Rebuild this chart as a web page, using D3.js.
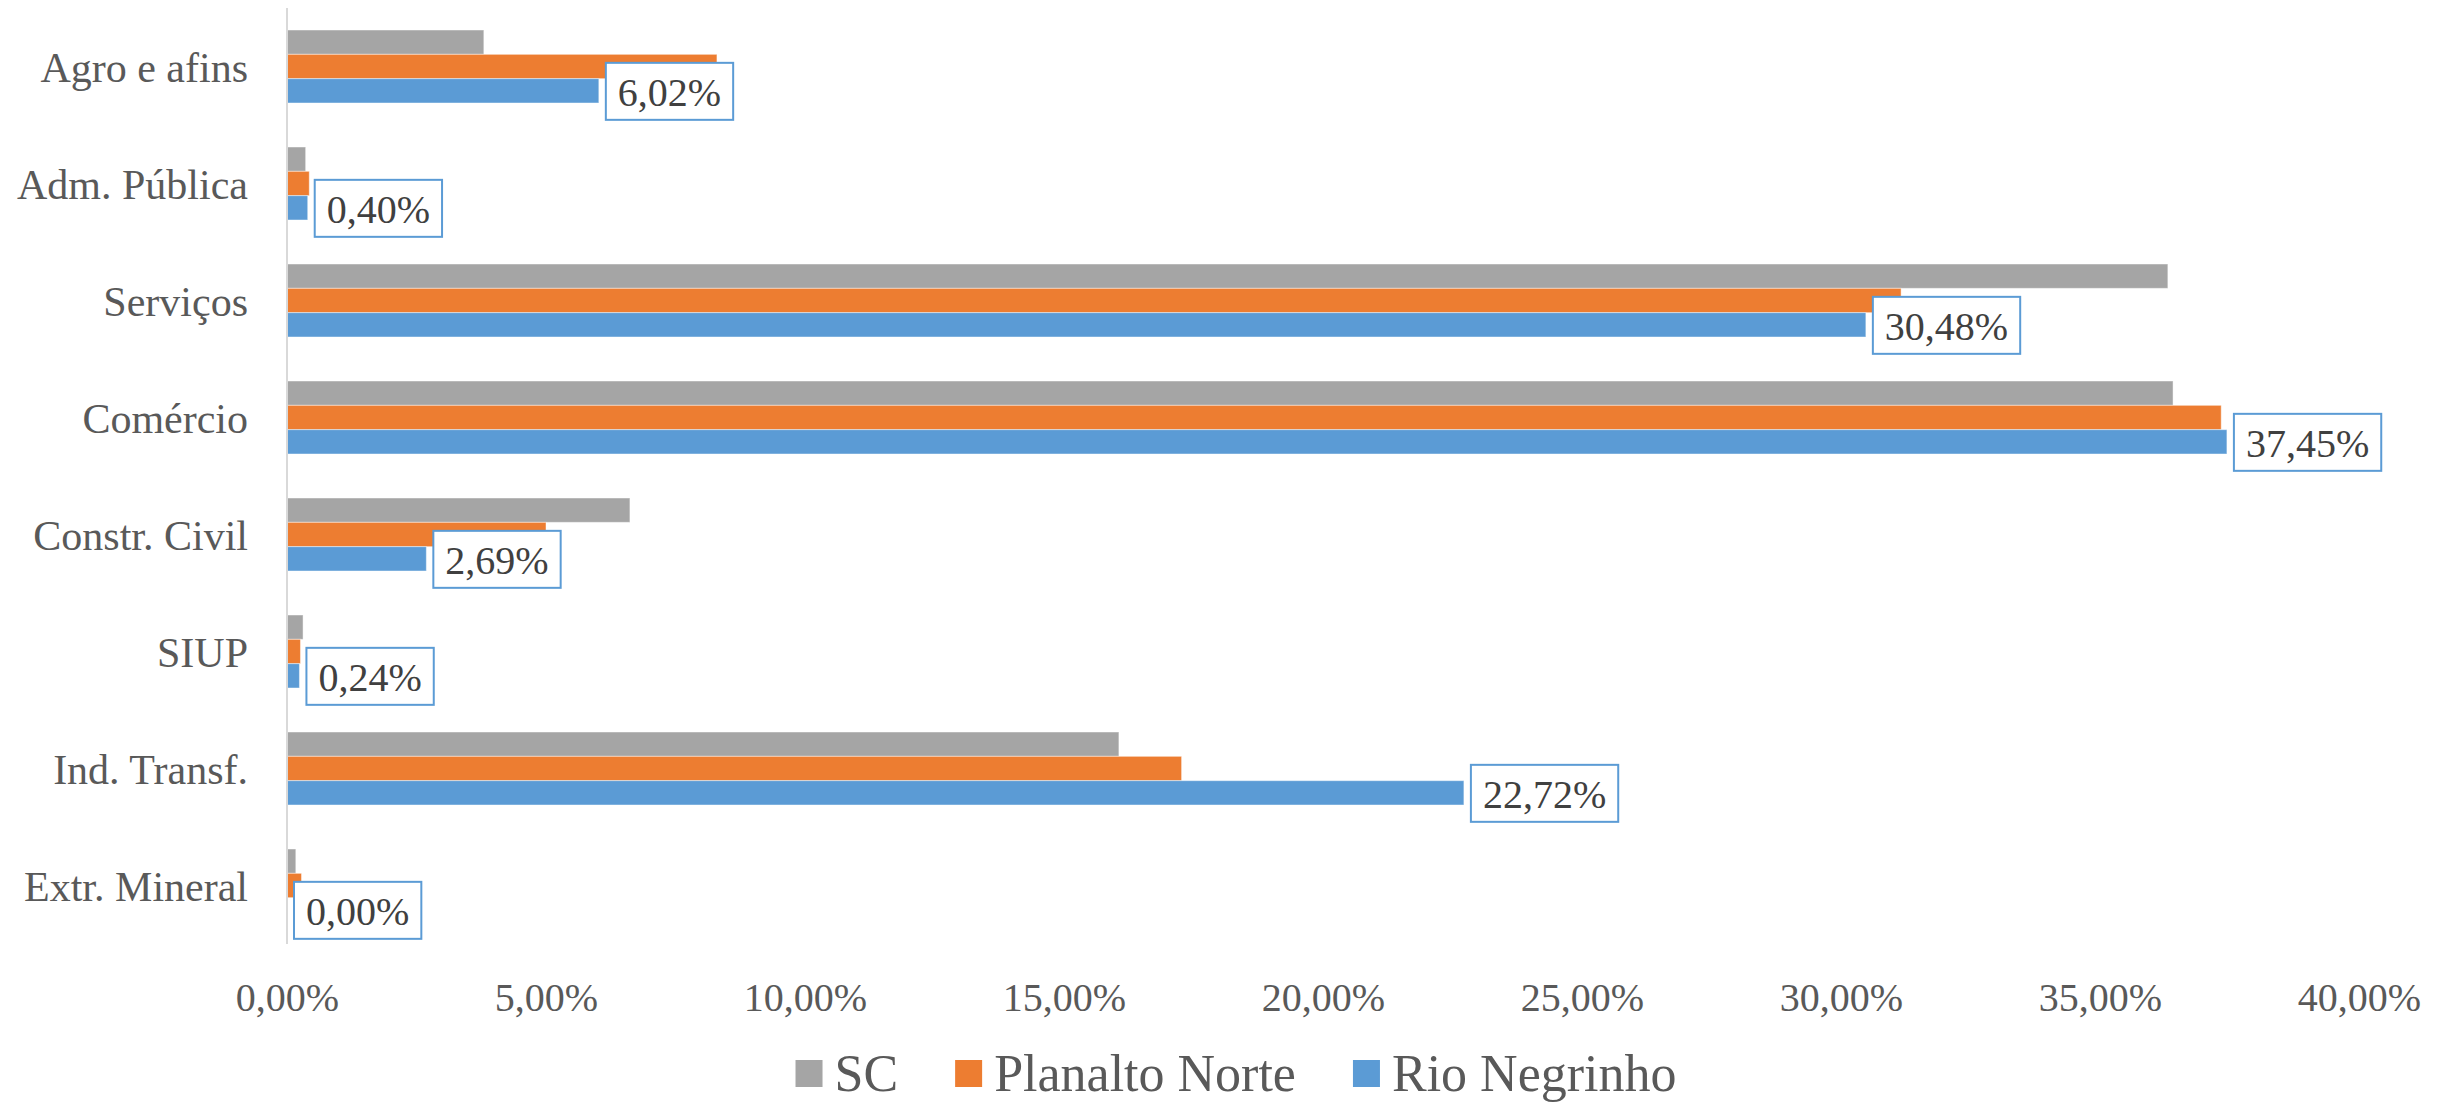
<!DOCTYPE html>
<html>
<head>
<meta charset="utf-8">
<script src="https://cdn.jsdelivr.net/npm/d3@7"></script>
</head>
<body style="margin:0;background:#ffffff">
<svg id="chart" width="2451" height="1103"></svg>
<script>
// ---- data ----
const categories = ["Agro e afins", "Adm. Pública", "Serviços", "Comércio", "Constr. Civil", "SIUP", "Ind. Transf.", "Extr. Mineral"];
const seriesNames = ["SC", "Planalto Norte", "Rio Negrinho"];
const scValues = [0.0380, 0.0036, 0.3631, 0.3641, 0.0662, 0.0031, 0.1606, 0.0017];
const planaltoValues = [0.0830, 0.0043, 0.3116, 0.3734, 0.0500, 0.0026, 0.1727, 0.0028];
const rioValues = [0.0602, 0.0040, 0.3048, 0.3745, 0.0269, 0.0024, 0.2272, 0.0000];
const xTicks = [0, 0.05, 0.10, 0.15, 0.20, 0.25, 0.30, 0.35, 0.40];
const seriesColors = ["#a5a5a5", "#ed7d31", "#5b9bd5"];

const allValues = [scValues, planaltoValues, rioValues];
const FONT = "Liberation Serif";

// ---- layout ----
const svg = d3.select("#chart");
const plotLeft = 287, plotRight = 2359, plotTop = 8, plotBottom = 944;

const locale = d3.formatLocale({ decimal: ",", thousands: ".", grouping: [3], currency: ["R$", ""] });
const fmt = locale.format(".2%");

const x = d3.scaleLinear().domain([0, 0.40]).range([plotLeft, plotRight]);
const y = d3.scaleBand().domain(categories).range([plotTop, plotBottom])
  .paddingInner(0.376).paddingOuter(0.188);
const ySub = d3.scaleBand().domain(seriesNames).range([0, y.bandwidth()]).padding(0);

// bars
seriesNames.forEach((s, si) => {
  svg.append("g")
    .selectAll("rect")
    .data(categories.map((c, i) => ({ c, v: allValues[si][i] })))
    .join("rect")
    .attr("x", x(0))
    .attr("y", d => y(d.c) + ySub(s))
    .attr("width", d => Math.max(0, x(d.v) - x(0)))
    .attr("height", ySub.bandwidth())
    .attr("fill", seriesColors[si])
    .attr("stroke", "#ffffff")
    .attr("stroke-opacity", 0.45)
    .attr("stroke-width", 1);
});

// vertical axis line
svg.append("line")
  .attr("x1", x(0)).attr("x2", x(0))
  .attr("y1", plotTop).attr("y2", plotBottom)
  .attr("stroke", "#d9d9d9").attr("stroke-width", 2);

// category labels
const yAxis = d3.axisLeft(y).tickSize(0).tickPadding(39);
const gy = svg.append("g").attr("transform", `translate(${x(0)},0)`).call(yAxis);
gy.attr("font-family", FONT).attr("font-size", 42);
gy.select(".domain").remove();
gy.selectAll("text")
  .attr("font-family", FONT)
  .attr("font-size", 42)
  .attr("fill", "#595959")
  .attr("dy", null)
  .attr("y", 15);

// x tick labels
const xAxis = d3.axisBottom(x).tickValues(xTicks).tickFormat(fmt).tickSize(0).tickPadding(0);
const gx = svg.append("g").attr("transform", `translate(0,${plotBottom})`).call(xAxis);
gx.attr("font-family", FONT).attr("font-size", 40);
gx.select(".domain").remove();
gx.selectAll("text")
  .attr("font-family", FONT)
  .attr("font-size", 40)
  .attr("fill", "#595959")
  .attr("dy", null)
  .attr("y", 67);

// data labels for Rio Negrinho
const lab = svg.append("g").attr("font-family", FONT);
categories.forEach((c, i) => {
  const v = rioValues[i];
  const cy = y(c) + ySub("Rio Negrinho") + ySub.bandwidth() / 2;
  const g = lab.append("g");
  const t = g.append("text")
    .attr("font-family", FONT)
    .attr("font-size", 40)
    .attr("fill", "#404040")
    .attr("text-anchor", "middle")
    .text(fmt(v));
  const w = t.node().getComputedTextLength();
  const bw = w + 24, bh = 57;
  const bx = x(v) + 7;
  g.insert("rect", "text")
    .attr("x", bx).attr("y", cy - bh / 2 + 0.5)
    .attr("width", bw).attr("height", bh)
    .attr("fill", "#ffffff")
    .attr("stroke", "#5b9bd5").attr("stroke-width", 2);
  t.attr("x", bx + bw / 2).attr("y", cy + 15);
});

// legend
const legend = svg.append("g").attr("font-family", FONT);
const legendFont = 52, sq = 27, sqGap = 12, itemGap = 57;
let cursor = 0;
seriesNames.forEach((s, i) => {
  const g = legend.append("g");
  g.append("rect").attr("x", cursor).attr("y", 1060).attr("width", sq).attr("height", sq).attr("fill", seriesColors[i]);
  const t = g.append("text").attr("x", cursor + sq + sqGap).attr("y", 1091)
    .attr("font-family", FONT)
    .attr("font-size", legendFont).attr("fill", "#595959").text(s);
  const w = t.node().getComputedTextLength();
  cursor += sq + sqGap + w + itemGap;
});
const totalW = cursor - itemGap;
legend.attr("transform", `translate(${1236 - totalW / 2},0)`);
</script>
</body>
</html>
